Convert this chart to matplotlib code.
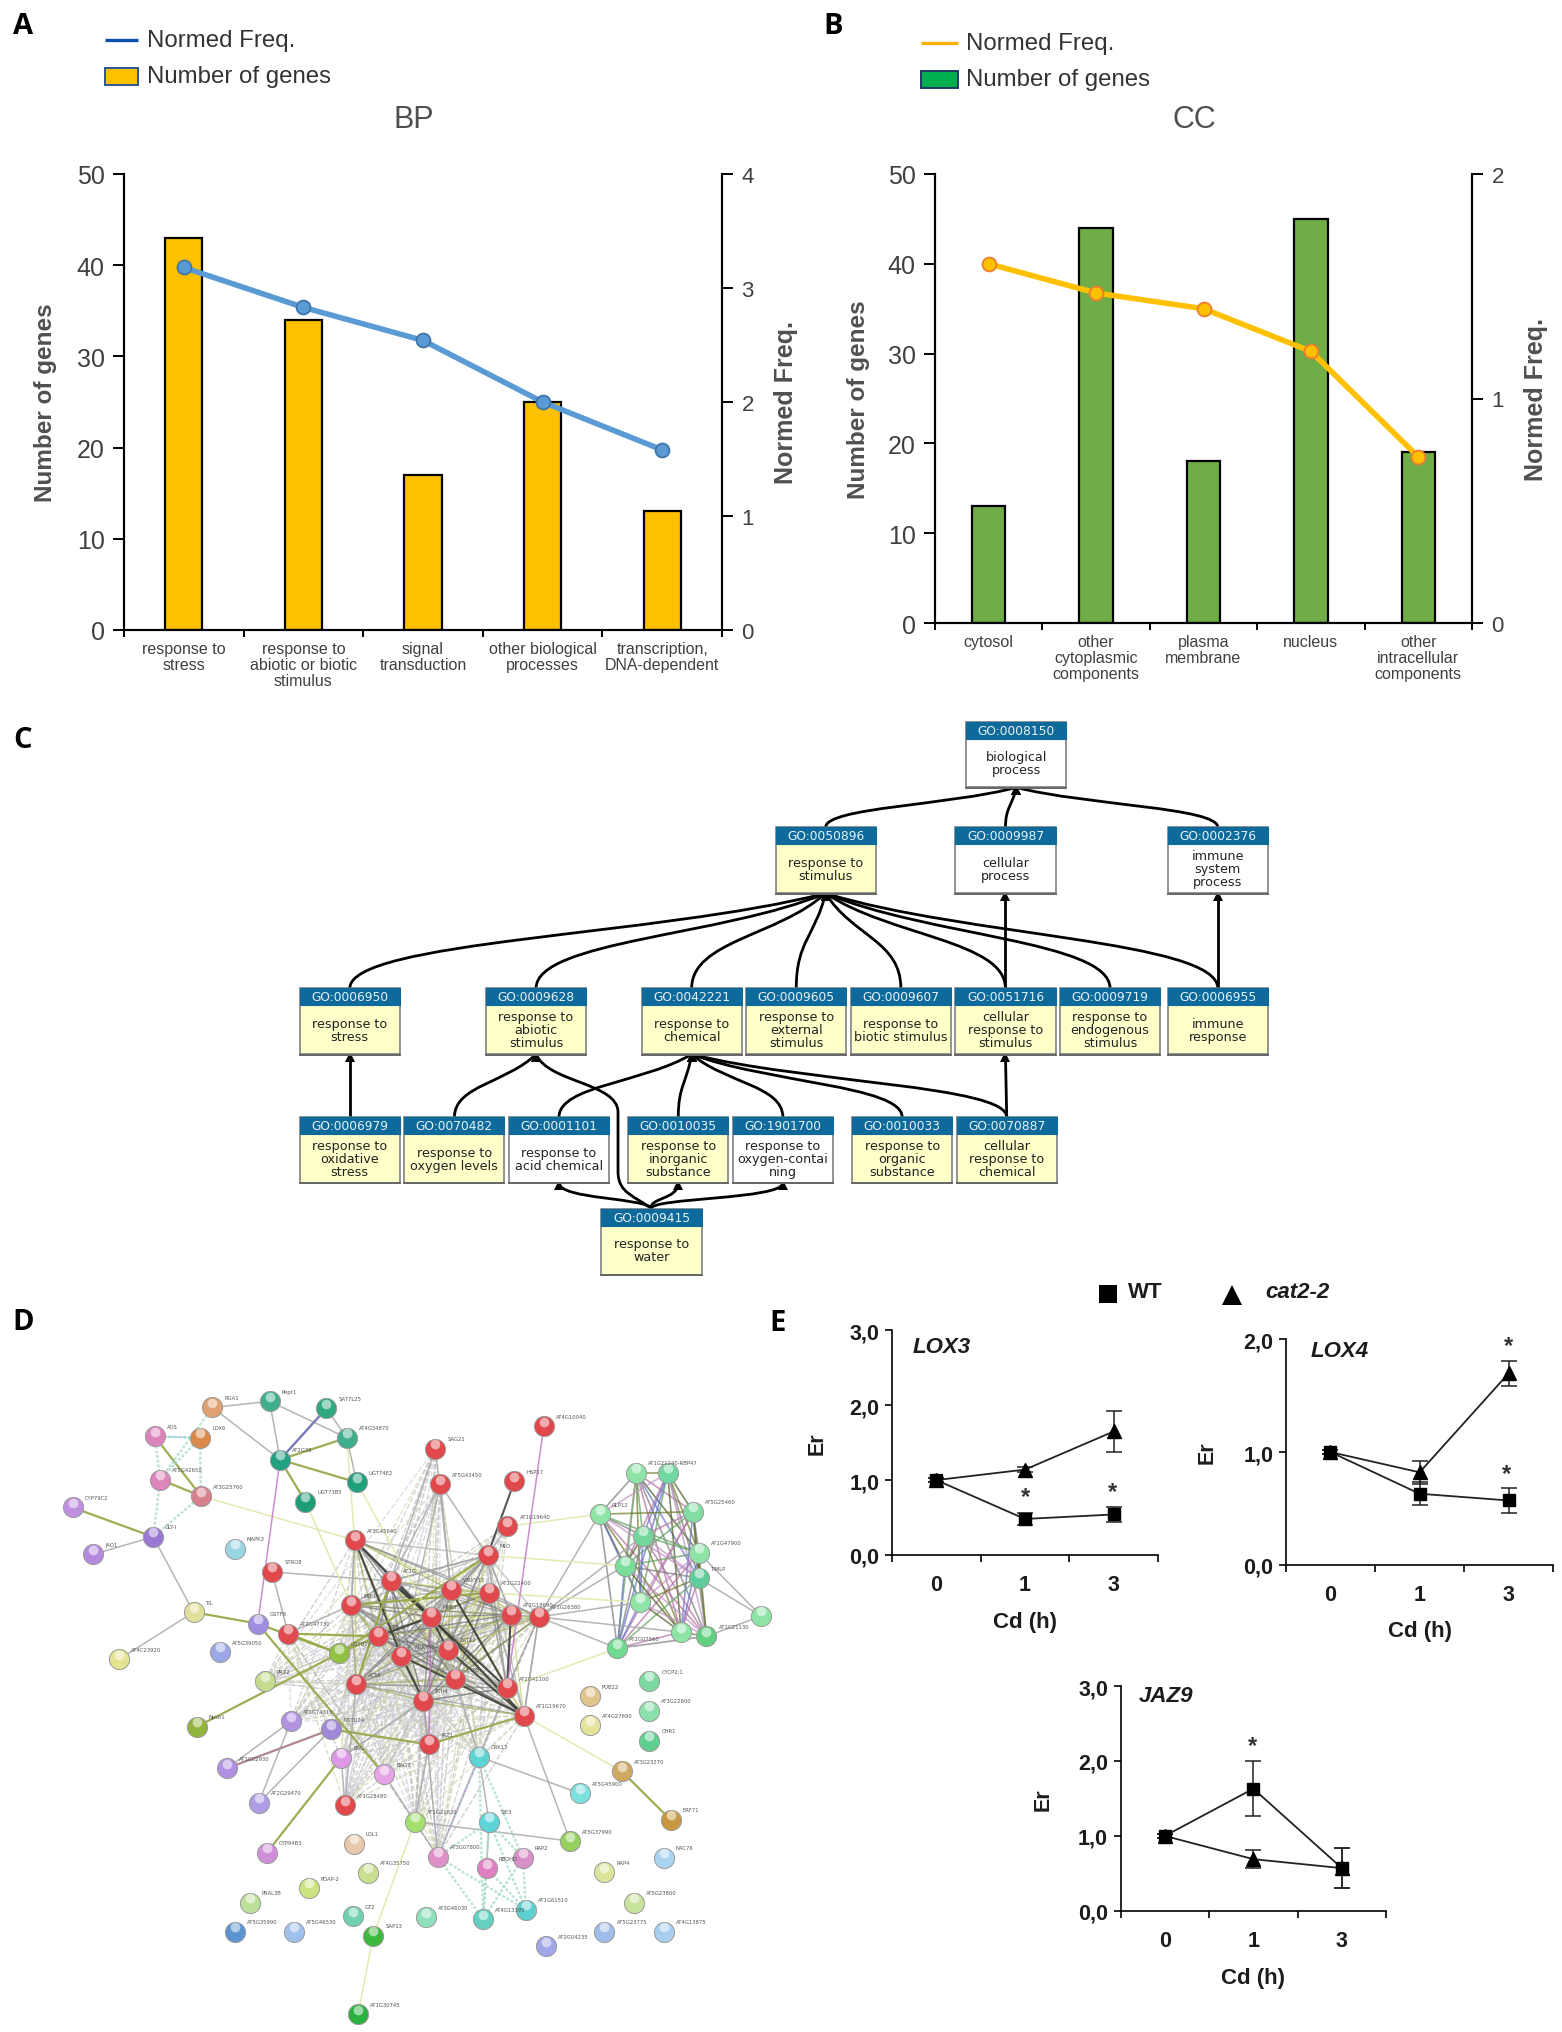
import itertools
import matplotlib
matplotlib.use("Agg")
import matplotlib.pyplot as plt
from matplotlib.patches import Rectangle, PathPatch
from matplotlib.path import Path

W, H = 1562, 2033
SANS = ["Liberation Sans", "DejaVu Sans"]
plt.rcParams["font.family"] = SANS

# ---------- data: panels A and B ----------
bp_categories = ["response to\nstress", "response to\nabiotic or biotic\nstimulus", "signal\ntransduction",
                 "other biological\nprocesses", "transcription,\nDNA-dependent"]
bp_genes = [43, 34, 17, 25, 13]
bp_freq = [3.18, 2.83, 2.54, 2.0, 1.58]
cc_categories = ["cytosol", "other\ncytoplasmic\ncomponents", "plasma\nmembrane", "nucleus",
                 "other\nintracellular\ncomponents"]
cc_genes = [13, 44, 18, 45, 19]
cc_freq = [1.60, 1.47, 1.40, 1.21, 0.74]

# ---------- data: panel E ----------
cd_labels = ["0", "1", "3"]
lox3_wt, lox3_wt_err = [1.0, 0.48, 0.54], [0.03, 0.08, 0.10]
lox3_cat, lox3_cat_err = [1.0, 1.14, 1.65], [0.03, 0.03, 0.27]
lox4_wt, lox4_wt_err = [1.0, 0.63, 0.57], [0.02, 0.10, 0.11]
lox4_cat, lox4_cat_err = [1.0, 0.82, 1.70], [0.02, 0.10, 0.11]
jaz9_wt, jaz9_wt_err = [1.0, 1.63, 0.57], [0.03, 0.37, 0.27]
jaz9_cat, jaz9_cat_err = [1.0, 0.69, 0.57], [0.03, 0.12, 0.27]

# ---------- data: panel C (GO graph) ----------
go_nodes = {
    "0008150": ("biological\nprocess", 1076, 34, False),
    "0050896": ("response to\nstimulus", 777, 320, True),
    "0009987": ("cellular\nprocess", 1059, 320, False),
    "0002376": ("immune\nsystem\nprocess", 1392, 320, False),
    "0006950": ("response to\nstress", 31, 755, True),
    "0009628": ("response to\nabiotic\nstimulus", 323, 755, True),
    "0042221": ("response to\nchemical", 567, 755, True),
    "0009605": ("response to\nexternal\nstimulus", 731, 755, True),
    "0009607": ("response to\nbiotic stimulus", 895, 755, True),
    "0051716": ("cellular\nresponse to\nstimulus", 1059, 755, True),
    "0009719": ("response to\nendogenous\nstimulus", 1223, 755, True),
    "0006955": ("immune\nresponse", 1392, 755, True),
    "0006979": ("response to\noxidative\nstress", 31, 1103, True),
    "0070482": ("response to\noxygen levels", 195, 1103, True),
    "0001101": ("response to\nacid chemical", 359, 1103, False),
    "0010035": ("response to\ninorganic\nsubstance", 546, 1103, True),
    "1901700": ("response to\noxygen-contai\nning", 710, 1103, False),
    "0010033": ("response to\norganic\nsubstance", 897, 1103, True),
    "0070887": ("cellular\nresponse to\nchemical", 1061, 1103, True),
    "0009415": ("response to\nwater", 504, 1351, True),
}
go_edges = [
    ("0050896", "0008150"), ("0009987", "0008150"), ("0002376", "0008150"),
    ("0006950", "0050896"), ("0009628", "0050896"), ("0042221", "0050896"), ("0009605", "0050896"),
    ("0009607", "0050896"), ("0051716", "0050896"), ("0009719", "0050896"), ("0006955", "0050896"),
    ("0051716", "0009987"), ("0006955", "0002376"), ("0006979", "0006950"), ("0070482", "0009628"),
    ("0001101", "0042221"), ("0010035", "0042221"), ("1901700", "0042221"), ("0010033", "0042221"),
    ("0070887", "0042221"), ("0070887", "0051716"),
]
water_targets = ["0001101", "0010035", "1901700"]

# ---------- data: panel D (interaction network) ----------
RED = "#e0484c"; TEAL = "#3fae8c"; MINT = "#8ee4a6"; PUR = "#b193e0"; PINK = "#dc85bb"
net_nodes = {
    "a1": (427, 250, "#e0a070", "RGA1"), "a2": (402, 314, "#d98a4a", "LOX6"), "a3": (311, 311, PINK, "AOS"),
    "a4": (322, 402, PINK, "AT5G42650"), "a5": (404, 437, "#d8808c", "AT3G25760"),
    "p1": (146, 461, "#c08fe0", "CYP79C2"), "p2": (187, 560, "#b58ade", "JAO1"), "p3": (308, 523, "#9a78d4", "GLY-I"),
    "t1": (542, 237, TEAL, "Pepr1"), "t2": (656, 252, "#2fa880", "SAT7L25"), "t3": (697, 314, TEAL, "AT4G34870"),
    "t4": (563, 360, "#23a080", "AT2G38"), "t5": (717, 408, "#1fa07c", "UGT74E2"), "t6": (614, 449, "#1e9c78", "UGT73B5"),
    "b1": (472, 548, "#9ad6e4", "MAPK3"), "r1": (875, 337, RED, "SAG21"), "r2": (885, 412, RED, "AT5G43450"),
    "r3": (1034, 406, RED, "HSP17"), "r4": (1093, 290, RED, "AT4G10040"), "r5": (1020, 501, RED, "AT1G19640"),
    "r6": (713, 530, RED, "AT3G45640"), "r7": (980, 562, RED, "MLO"), "r8": (547, 597, RED, "STRO8"),
    "r9": (785, 616, RED, "AT1G"), "r10": (906, 635, RED, "WRKY33"), "r11": (982, 641, RED, "AT1G22400"),
    "r12": (706, 667, RED, "ERF1"), "r13": (866, 692, RED, "MPK3"), "r14": (1027, 687, RED, "AT2G18690"),
    "r15": (1083, 692, RED, "AT1G26380"), "r16": (759, 733, RED, "CML37"), "r17": (579, 727, RED, "AT2G47730"),
    "r18": (900, 761, RED, "ZAT12"), "r19": (807, 775, RED, "WRKY40"), "r20": (914, 823, RED, "CYP81"),
    "r21": (716, 834, RED, "ACS6"), "r22": (1019, 842, RED, "AT2G41100"), "r23": (851, 869, RED, "TCH4"),
    "r24": (1053, 900, RED, "AT1G19670"), "r25": (862, 961, RED, "JAZ1"), "r26": (693, 1089, RED, "AT1G28480"),
    "y1": (389, 682, "#e0e098", "TIL"), "y2": (240, 781, "#e4e490", "AT4C23920"), "u1": (518, 706, "#a08ce0", "GSTF8"),
    "u2": (442, 766, "#9aa6e6", "AT5G39050"), "o1": (681, 769, "#92c040", "GSTU25"), "o2": (532, 828, "#c4dc90", "PRX2"),
    "o3": (395, 924, "#90b43c", "Npsn1"), "v1": (585, 912, PUR, "AT1G74310"), "v2": (666, 929, "#a088d8", "GSTU24"),
    "v3": (457, 1011, "#b090e0", "AT1G02930"), "v4": (520, 1084, "#b09ce4", "AT2G29470"), "m1": (686, 989, "#dc98e4", "BAG"),
    "m2": (772, 1024, "#e4a4e6", "BAG7"), "m3": (536, 1190, "#cf8fd8", "CYP94B3"), "c1": (963, 987, "#5cd4d4", "CRK13"),
    "c2": (1165, 1064, "#7ce0dc", "AT5G45900"), "c3": (983, 1124, "#5cd4d8", "SIE3"), "c4": (1057, 1310, "#5cd0d0", "AT1G61510"),
    "c5": (971, 1330, "#64d0c0", "AT4G13395"), "l1": (834, 1124, "#a4e070", "AT1G21830"), "l2": (1146, 1165, "#94d05c", "AT5G37990"),
    "k1": (880, 1198, "#e090c8", "AT3G07800"), "k2": (978, 1222, "#e080c0", "RBOHD"), "k3": (1051, 1200, "#d890c8", "RAP2"),
    "f1": (711, 1170, "#e8c8ac", "LOL1"), "f2": (740, 1232, "#c8e090", "AT4G35750"), "f3": (621, 1264, "#cce480", "PDAP-2"),
    "f4": (502, 1295, "#bce09a", "PRAL3B"), "f5": (472, 1356, "#5c94d0", "AT5G35990"), "f6": (591, 1356, "#a0c0ec", "AT5G46530"),
    "f7": (710, 1324, "#70d0b0", "GT2"), "f8": (750, 1365, "#3cb83c", "SAP13"), "f9": (720, 1530, "#2cb040", "AT1G30745"),
    "f10": (857, 1326, "#90e0bc", "AT3G46030"), "f11": (1097, 1387, "#a0a4e8", "AT2G04235"), "f12": (1215, 1356, "#a0bce8", "AT5G23775"),
    "f13": (1335, 1356, "#a8cff0", "AT4G13875"), "f14": (1275, 1295, "#c8e49c", "AT5G23800"), "f15": (1215, 1231, "#dce49c", "RAP4"),
    "f16": (1334, 1200, "#a8d4f0", "NAC76"), "g1": (1185, 859, "#e0c48c", "PUB22"), "g2": (1185, 921, "#e4e49c", "AT4G27690"),
    "g3": (1305, 827, "#7cd8a0", "CYCP2;1"), "g4": (1305, 890, "#8ce0ac", "AT3G22800"), "g5": (1305, 953, "#60d090", "CHR1"),
    "h1": (1250, 1018, "#d0a860", "AT3G23270"), "h2": (1348, 1120, "#c89840", "ERF71"),
    "n1": (1279, 388, MINT, "AT1G21240-RBP47"), "n2": (1342, 388, "#70d8a0", ""), "n3": (1393, 470, "#80dca0", "AT5G25460"),
    "n4": (1205, 475, MINT, "GLP12"), "n5": (1292, 521, "#74d89c", ""), "n6": (1405, 557, MINT, "AT1G47900"),
    "n7": (1256, 584, "#7cdc9c", ""), "n8": (1404, 610, "#60cc9c", "TIMLP"), "n9": (1287, 661, MINT, ""),
    "n10": (1369, 724, MINT, ""), "n11": (1420, 733, "#60d080", "AT1G21130"), "n12": (1241, 758, "#70d890", "AT2G07560"),
    "n13": (1530, 690, MINT, ""),
}
core_red = ["r6", "r9", "r10", "r11", "r12", "r13", "r14", "r15", "r16", "r18", "r19", "r20", "r21", "r22", "r23", "r24", "r7"]
core_green = ["n1", "n2", "n3", "n4", "n5", "n6", "n7", "n8", "n9", "n10", "n11", "n12"]
lower_group = ["r25", "r26", "m1", "m2", "v1", "v2", "o1", "o2", "c1", "l1", "k1"]
upper_links = ["r2", "r1", "r17", "r5"]
strong_edges = [("r6", "r13"), ("r6", "r19"), ("r9", "r13"), ("r9", "r22"), ("r13", "r18"), ("r13", "r24"), ("r19", "r24"),
                ("r10", "r22"), ("r14", "r22"), ("r18", "r24"), ("r16", "r13"), ("r3", "r7"), ("r19", "r23")]
olive_edges = [("p1", "p3"), ("t4", "t3"), ("t4", "t5"), ("t4", "t6"), ("t2", "t4"), ("a3", "a5"), ("a4", "a5"), ("y1", "u1"),
               ("u1", "o1"), ("o3", "o1"), ("o1", "r17"), ("o1", "r16"), ("o1", "r7"), ("r17", "r16"), ("r24", "r25"),
               ("r25", "v2"), ("m3", "m1"), ("h1", "h2"), ("u1", "m2"), ("r12", "r11"), ("v2", "v3"), ("r9", "r21")]
grey_edges = [("a1", "t1"), ("a1", "t4"), ("t1", "t4"), ("t1", "t3"), ("t3", "t5"), ("t2", "t3"), ("p2", "p3"), ("p3", "y1"),
              ("y1", "y2"), ("r8", "r9"), ("r8", "r17"), ("r12", "r17"), ("r1", "r9"), ("r1", "r10"), ("r2", "r9"), ("r2", "r19"),
              ("r2", "r10"), ("r2", "r7"), ("r5", "r7"), ("r7", "r9"), ("r7", "r14"), ("r12", "r21"), ("r6", "r12"),
              ("v1", "v3"), ("v1", "v4"), ("v2", "v4"), ("m1", "r26"), ("m1", "r23"), ("m2", "l1"), ("l1", "k1"), ("l1", "l2"),
              ("c1", "c2"), ("c1", "c3"), ("c3", "k2"), ("r24", "l2"), ("n13", "n8"), ("n13", "n6"), ("n13", "n11"),
              ("r15", "r24"), ("r25", "r23"), ("r26", "r21"), ("r25", "l1"), ("r15", "n4"), ("r15", "n7"), ("r15", "n9"),
              ("r15", "n12"), ("r15", "n10"), ("r15", "n5"), ("r22", "c1"), ("r20", "c1"), ("r23", "k1")]
pale_edges = [("a5", "r6"), ("t5", "r13"), ("t6", "r12"), ("t3", "r6"), ("r24", "h1"), ("r5", "n4"), ("r22", "n12"),
              ("l1", "f8"), ("f8", "f9"), ("r7", "n7"), ("r11", "n9")]
pink_edges = [("t4", "u1"), ("r4", "r22"), ("v3", "v2"), ("r13", "r25"), ("c1", "k1")]
string_edges = [("a3", "a2"), ("a3", "a4"), ("a2", "a5"), ("a4", "p3"), ("a5", "p3"), ("a2", "a4"), ("a1", "a4"),
                ("k1", "c5"), ("k1", "c4"), ("k2", "c5"), ("k2", "c4"), ("k3", "c5"), ("k3", "c4"), ("k1", "c3"), ("k3", "c3"),
                ("c1", "k1"), ("c1", "c5"), ("c1", "k3"), ("c3", "c5"), ("c3", "c4")]
mesh_colors = ["#7a7a7a", "#9aa84a", "#8a8a8a", "#a8a8a8", "#5f5f5f", "#c8cc66"]
green_mesh_colors = ["#6a7a28", "#b070a0", "#7a7a7a", "#60a060", "#4a5a22", "#c090c0", "#6070c8"]
spread_colors = ["#c4c4c4", "#d8d0e0", "#d0d8b0", "#bcbcbc"]

# ---------- figure ----------
fig = plt.figure(figsize=(W / 100, H / 100), dpi=100, facecolor="white")
page = fig.add_axes([0, 0, 1, 1], zorder=0)
page.set_xlim(0, W); page.set_ylim(H, 0); page.axis("off")


def px_axes(left, top, right, bottom, **kw):
    return fig.add_axes([left / W, 1 - bottom / H, (right - left) / W, (bottom - top) / H], facecolor="none", **kw)


for letter, x, y in [("A", 23, 27), ("B", 833, 26), ("C", 23, 741), ("D", 23, 1323), ("E", 778, 1324)]:
    page.text(x, y, letter, fontsize=21, fontweight="bold", family=["Open Sans", "DejaVu Sans"], ha="center", va="center", color="black")


def go_panel(box, cats, genes, freq, fmax, bar_col, line_col, mark_edge, title, title_px, lx, rx, yticks2):
    left, top, right, bottom = box
    ax = px_axes(*box, zorder=2)
    xs = [i + 0.5 for i in range(len(cats))]
    ax.bar(xs, genes, width=0.31, color=bar_col, edgecolor="black", linewidth=1.6, zorder=2)
    ax.set_xlim(0, 5); ax.set_ylim(0, 50)
    ax.set_yticks(range(0, 51, 10))
    ax.tick_params(axis="y", length=8, width=1.4, labelsize=18, labelcolor="#404040", pad=6)
    ax.set_xticks(xs); ax.set_xticklabels(cats, fontsize=11.5, color="#404040", linespacing=1.06)
    ax.set_xticks(range(6), minor=True)
    ax.tick_params(axis="x", which="major", length=0, pad=8)
    ax.tick_params(axis="x", which="minor", length=5, width=1.4)
    ax.spines["top"].set_visible(False)
    for s in ("left", "bottom", "right"):
        ax.spines[s].set_linewidth(1.5)
    ax.set_ylabel("Number of genes", fontsize=17.5, fontweight="bold", color="#505050", va="center")
    ax.yaxis.set_label_coords((lx - left) / (right - left), 0.5)
    ax.set_title(title, fontsize=22, color="#505050", va="center", pad=0,
                 x=(title_px[0] - left) / (right - left), y=(bottom - title_px[1]) / (bottom - top))
    ax2 = ax.twinx()
    ax2.set_facecolor("none")
    ax2.plot(xs, freq, color=line_col, lw=4.0, marker="o", ms=10, mfc=line_col, mec=mark_edge, mew=1.3, zorder=5)
    ax2.set_ylim(0, fmax); ax2.set_yticks(yticks2)
    ax2.tick_params(axis="y", length=8, width=1.4, labelsize=16, labelcolor="#404040", pad=6)
    ax2.spines["top"].set_visible(False)
    for s in ("left", "bottom", "right"):
        ax2.spines[s].set_linewidth(1.5)
    ax2.set_ylabel("Normed Freq.", fontsize=18, fontweight="bold", color="#505050", va="center", rotation=90)
    ax2.yaxis.set_label_coords((rx - left) / (right - left), 0.5)


go_panel((124, 175, 722, 631), bp_categories, bp_genes, bp_freq, 4, "#FFC000", "#5B9BD5", "#3F74A8", "BP", (414, 120), 46, 786, range(0, 5))
go_panel((935, 175, 1472, 624), cc_categories, cc_genes, cc_freq, 2, "#70AD47", "#FFC000", "#ED7D31", "CC", (1194, 120), 859, 1536, range(0, 3))


def legend_row(x0, x1, ty, tx, line_col, patch_col, patch_edge, y2):
    page.plot([x0, x1], [ty, ty], color=line_col, lw=2.4, solid_capstyle="butt")
    page.text(tx, ty, "Normed Freq.", fontsize=17.3, color="#333333", va="center")
    page.add_patch(Rectangle((x0, y2 - 8.5), x1 - x0, 17, fc=patch_col, ec=patch_edge, lw=1.4))
    page.text(tx, y2, "Number of genes", fontsize=17.3, color="#333333", va="center")


legend_row(105, 138, 41, 147, "#0F4FB0", "#FFC000", "#2F5597", 77)
legend_row(921, 958, 44, 966, "#FFB000", "#00B050", "#1F3864", 80)

# ---------- panel C ----------
def zx(v):
    return 280 + v / 1.568


def zy(v):
    return 710 + v / 2.703


BOX_W, BOX_H, HEAD_H = 157, 178, 46
EDGE_LW = 2.0


def arrow_tip(x, y):
    page.plot([zx(x)], [zy(y) + 2.5], marker="^", ms=7, color="black", mew=0, zorder=3)


def box_ends(child, parent):
    _, cl, ct, _ = go_nodes[child]
    _, pl, pt, _ = go_nodes[parent]
    return cl + BOX_W / 2, ct, pl + BOX_W / 2, pt + BOX_H


for child, parent in go_edges:
    cx, cy, px, py = box_ends(child, parent)
    dx = px - cx; h = cy - py
    if abs(dx) < 3:
        verts = [(cx, cy), (px, py)]; codes = [Path.MOVETO, Path.LINETO]
    else:
        verts = [(cx, cy), (cx, cy - 0.5 * h), (px - 0.35 * dx, py + 0.45 * h), (px, py)]
        codes = [Path.MOVETO, Path.CURVE4, Path.CURVE4, Path.CURVE4]
    page.add_patch(PathPatch(Path([(zx(a), zy(b)) for a, b in verts], codes), fc="none", ec="black", lw=EDGE_LW, zorder=2))
    arrow_tip(px, py)

wx, wy = go_nodes["0009415"][1] + BOX_W / 2, go_nodes["0009415"][2]
for t in water_targets:
    tx = go_nodes[t][1] + BOX_W / 2; ty = go_nodes[t][2] + BOX_H
    verts = [(wx, wy), (wx - 5, wy - 30), (tx, wy - 25), (tx, ty)]
    page.add_patch(PathPatch(Path([(zx(a), zy(b)) for a, b in verts], [Path.MOVETO] + [Path.CURVE4] * 3), fc="none", ec="black", lw=EDGE_LW, zorder=2))
    arrow_tip(tx, ty)
abx, aby = go_nodes["0009628"][1] + BOX_W / 2, go_nodes["0009628"][2] + BOX_H
verts = [(wx, wy), (wx - 25, wy - 35), (530, wy - 40), (530, 1250), (530, 1090), (530, 1010), (420, 1010), (abx, aby)]
codes = [Path.MOVETO, Path.CURVE4, Path.CURVE4, Path.CURVE4, Path.LINETO, Path.CURVE4, Path.CURVE4, Path.CURVE4]
page.add_patch(PathPatch(Path([(zx(a), zy(b)) for a, b in verts], codes), fc="none", ec="black", lw=EDGE_LW, zorder=2))
arrow_tip(abx, aby)

for go_id, (label, left, top, yellow) in go_nodes.items():
    x0, y0 = zx(left), zy(top)
    w, h, hh = BOX_W / 1.568, BOX_H / 2.703, HEAD_H / 2.703
    page.add_patch(Rectangle((x0, y0), w, h, fc="#FFFFC9" if yellow else "white", ec="#777777", lw=1.1, zorder=4))
    page.add_patch(Rectangle((x0, y0), w, hh, fc="#0E6A9A", ec="#0E6A9A", lw=0.8, zorder=5))
    page.plot([x0, x0 + w], [y0 + h + 0.5] * 2, color="#666666", lw=1.4, zorder=5)
    page.text(x0 + w / 2, y0 + hh / 2, "GO:" + go_id, family="DejaVu Sans", fontsize=8.8, color="#E6F2F8", ha="center", va="center", zorder=6)
    page.text(x0 + w / 2, y0 + hh + (h - hh) / 2, label, family="DejaVu Sans", fontsize=9.2, color="#222222", ha="center", va="center", linespacing=1.0, zorder=6)

# ---------- panel D ----------
def nx(v):
    return v / 2.01


def ny(v):
    return 1290 + v / 2.11


def link(a, b, color, lw, alpha=1.0, ls="-", z=2):
    xa, ya = net_nodes[a][:2]; xb, yb = net_nodes[b][:2]
    page.plot([nx(xa), nx(xb)], [ny(ya), ny(yb)], color=color, lw=lw, alpha=alpha, ls=ls, zorder=z, solid_capstyle="round")


for i, (a, b) in enumerate(itertools.product(core_red + upper_links, lower_group)):
    link(a, b, spread_colors[i % len(spread_colors)], 1.0, 0.7, ls=(0, (4, 1.5)))
for i, (a, b) in enumerate(itertools.combinations(core_red, 2)):
    link(a, b, mesh_colors[i % len(mesh_colors)], 1.1, 0.6)
for i, (a, b) in enumerate(itertools.combinations(core_green, 2)):
    link(a, b, green_mesh_colors[i % len(green_mesh_colors)], 1.2, 0.7)
for a, b in grey_edges:
    link(a, b, "#a8a8a8", 1.1, 0.85)
for a, b in strong_edges:
    link(a, b, "#3a3a3a", 1.5, 0.85)
for a, b in olive_edges:
    link(a, b, "#9aa84a", 1.6, 0.95)
for a, b in pale_edges:
    link(a, b, "#e0e8a8", 1.1, 0.9)
for a, b in pink_edges:
    link(a, b, "#c070c8", 1.1, 0.8)
for a, b in string_edges:
    link(a, b, "#a8dcc8", 1.7, 0.8, ls=(0, (1.2, 0.8)))
link("a3", "a2", "#80c0e0", 1.0, 0.8, ls=(0, (2, 1)))
link("t2", "t4", "#7070e0", 1.6, 0.8)

for key, (x, y, color, label) in net_nodes.items():
    px, py = nx(x), ny(y)
    page.plot([px], [py], "o", ms=14.5, mfc=color, mec="#9a9a9a", mew=0.7, zorder=5)
    page.plot([px], [py + 2.5], "o", ms=9.5, mfc=color, mec="none", alpha=0.6, zorder=6)
    page.plot([px], [py - 4.6], "o", ms=7, mfc="white", mec="none", alpha=0.55, zorder=7)
    if label:
        page.text(px + 12, py - 10, label, fontsize=3.8, color="#555555", va="center", ha="left", zorder=8, family="DejaVu Sans")

# ---------- panel E ----------
def ezx(v):
    return 760 + v / 1.955


def ezy(v):
    return 1260 + v / 2.028


INK = "#1c1c1c"


def qpcr(zbox, ymax, yticks, ytick_labels, gene, gene_z, wt, wt_e, cat, cat_e, stars, er_z):
    l, t, r, b = zbox
    ax = px_axes(ezx(l), ezy(t), ezx(r), ezy(b), zorder=3)
    xs = [0.5, 1.5, 2.5]
    ax.errorbar(xs, cat, yerr=cat_e, color="#222222", lw=1.3, marker="^", ms=10, mfc="black", mec="black", capsize=5.5, capthick=1.1, elinewidth=1.1, zorder=3)
    ax.errorbar(xs, wt, yerr=wt_e, color="#222222", lw=1.3, marker="s", ms=9, mfc="black", mec="black", capsize=5.5, capthick=1.1, elinewidth=1.1, zorder=4)
    ax.set_xlim(0, 3); ax.set_ylim(0, ymax)
    ax.set_yticks(yticks); ax.set_yticklabels(ytick_labels, fontsize=15.5, fontweight="bold", color=INK)
    ax.set_xticks(range(4)); ax.set_xticklabels([])
    ax.set_xticks(xs, minor=True); ax.set_xticklabels(cd_labels, minor=True, fontsize=15.5, fontweight="bold", color=INK)
    ax.tick_params(axis="x", which="major", length=5, width=1.2, direction="out")
    ax.tick_params(axis="x", which="minor", length=0, pad=14)
    ax.tick_params(axis="y", length=5, width=1.2, pad=4)
    for s in ("top", "right"):
        ax.spines[s].set_visible(False)
    for s in ("left", "bottom"):
        ax.spines[s].set_linewidth(1.2)
    ax.set_xlabel("Cd (h)", fontsize=16, fontweight="bold", color=INK, labelpad=11)
    ax.set_ylabel("Er", fontsize=15.5, fontweight="bold", color=INK, va="center")
    ax.yaxis.set_label_coords((er_z - l) / (r - l), 0.5)
    page.text(ezx(gene_z[0]), ezy(gene_z[1]), gene, fontsize=16, fontweight="bold", fontstyle="italic", color=INK, ha="left", va="center")
    for sx, sy in stars:
        page.text(ezx(sx), ezy(sy) + 3, "*", fontsize=17, fontweight="bold", color="#333333", ha="center", va="center", zorder=6)


qpcr((258, 145, 778, 600), 3, [0, 1, 2, 3], ["0,0", "1,0", "2,0", "3,0"], "LOX3", (298, 177), lox3_wt, lox3_wt_err, lox3_cat, lox3_cat_err,
     [(519, 475), (690, 466)], 112)
qpcr((1028, 163, 1551, 620), 2, [0, 1, 2], ["0,0", "1,0", "2,0"], "LOX4", (1077, 185), lox4_wt, lox4_wt_err, lox4_cat, lox4_cat_err,
     [(1464, 170), (1460, 429)], 875)
qpcr((705, 866, 1224, 1322), 3, [0, 1, 2, 3], ["0,0", "1,0", "2,0", "3,0"], "JAZ9", (740, 885), jaz9_wt, jaz9_wt_err, jaz9_cat, jaz9_cat_err,
     [(963, 980)], 553)

page.plot([ezx(680)], [ezy(70)], "s", ms=13, color="black", mew=0)
page.text(ezx(720), ezy(66), "WT", fontsize=16, fontweight="bold", color=INK, ha="left", va="center")
page.plot([ezx(922)], [ezy(72)], "^", ms=14, color="black", mew=0)
page.text(ezx(988), ezy(66), "cat2-2", fontsize=16, fontweight="bold", fontstyle="italic", color=INK, ha="left", va="center")

fig.savefig("out.png", dpi=100)
